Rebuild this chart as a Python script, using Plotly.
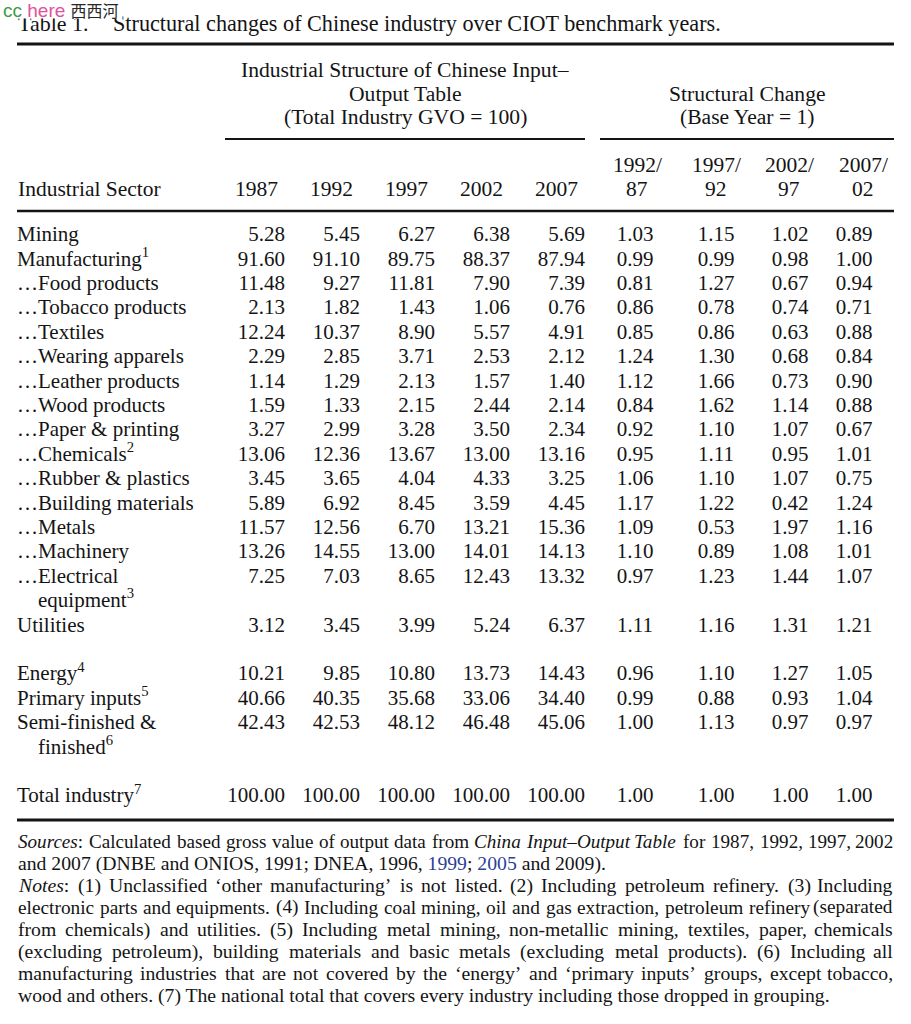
import re
import plotly.graph_objects as go

# ---- table data ---------------------------------------------------------
# "|" marks where a long sector label wraps onto a second line
sectors = [
    "Mining", "Manufacturing<sup>1</sup>", "…Food products", "…Tobacco products",
    "…Textiles", "…Wearing apparels", "…Leather products", "…Wood products",
    "…Paper & printing", "…Chemicals<sup>2</sup>", "…Rubber & plastics",
    "…Building materials", "…Metals", "…Machinery",
    "…Electrical|equipment<sup>3</sup>", "Utilities",
    "Energy<sup>4</sup>", "Primary inputs<sup>5</sup>",
    "Semi-finished &|finished<sup>6</sup>", "Total industry<sup>7</sup>",
]

gvo_1987 = [5.28, 91.60, 11.48, 2.13, 12.24, 2.29, 1.14, 1.59, 3.27, 13.06,
            3.45, 5.89, 11.57, 13.26, 7.25, 3.12, 10.21, 40.66, 42.43, 100.00]
gvo_1992 = [5.45, 91.10, 9.27, 1.82, 10.37, 2.85, 1.29, 1.33, 2.99, 12.36,
            3.65, 6.92, 12.56, 14.55, 7.03, 3.45, 9.85, 40.35, 42.53, 100.00]
gvo_1997 = [6.27, 89.75, 11.81, 1.43, 8.90, 3.71, 2.13, 2.15, 3.28, 13.67,
            4.04, 8.45, 6.70, 13.00, 8.65, 3.99, 10.80, 35.68, 48.12, 100.00]
gvo_2002 = [6.38, 88.37, 7.90, 1.06, 5.57, 2.53, 1.57, 2.44, 3.50, 13.00,
            4.33, 3.59, 13.21, 14.01, 12.43, 5.24, 13.73, 33.06, 46.48, 100.00]
gvo_2007 = [5.69, 87.94, 7.39, 0.76, 4.91, 2.12, 1.40, 2.14, 2.34, 13.16,
            3.25, 4.45, 15.36, 14.13, 13.32, 6.37, 14.43, 34.40, 45.06, 100.00]

chg_1992_87 = [1.03, 0.99, 0.81, 0.86, 0.85, 1.24, 1.12, 0.84, 0.92, 0.95,
               1.06, 1.17, 1.09, 1.10, 0.97, 1.11, 0.96, 0.99, 1.00, 1.00]
chg_1997_92 = [1.15, 0.99, 1.27, 0.78, 0.86, 1.30, 1.66, 1.62, 1.10, 1.11,
               1.10, 1.22, 0.53, 0.89, 1.23, 1.16, 1.10, 0.88, 1.13, 1.00]
chg_2002_97 = [1.02, 0.98, 0.67, 0.74, 0.63, 0.68, 0.73, 1.14, 1.07, 0.95,
               1.07, 0.42, 1.97, 1.08, 1.44, 1.31, 1.27, 0.93, 0.97, 1.00]
chg_2007_02 = [0.89, 1.00, 0.94, 0.71, 0.88, 0.84, 0.90, 0.88, 0.67, 1.01,
               0.75, 1.24, 1.16, 1.01, 1.07, 1.21, 1.05, 1.04, 0.97, 1.00]

year_labels = ["1987", "1992", "1997", "2002", "2007"]
change_labels = [("1992/", "87"), ("1997/", "92"), ("2002/", "97"), ("2007/", "02")]

BLUE = "#2b3f96"
notes = [
    ("<i>Sources</i>: Calculated based gross value of output data from <i>China</i> "
     "<i>Input–Output</i> <i>Table</i> for 1987, 1992, 1997, 2002", True),
    ("and 2007 (DNBE and ONIOS, 1991; DNEA, 1996, "
     f"<span style='color:{BLUE}'>1999</span>; <span style='color:{BLUE}'>2005</span> and 2009).", False),
    ("<i>Notes</i>: (1) Unclassified ‘other manufacturing’ is not listed. (2) Including "
     "petroleum refinery. (3) Including", True),
    ("electronic parts and equipments. (4) Including coal mining, oil and gas extraction, "
     "petroleum refinery (separated", True),
    ("from chemicals) and utilities. (5) Including metal mining, non-metallic mining, "
     "textiles, paper, chemicals", True),
    ("(excluding petroleum), building materials and basic metals (excluding metal "
     "products). (6) Including all", True),
    ("manufacturing industries that are not covered by the ‘energy’ and ‘primary inputs’ "
     "groups, except tobacco,", True),
    ("wood and others. (7) The national total that covers every industry including those "
     "dropped in grouping.", False),
]

# ---- layout constants ---------------------------------------------------
W, H = 911, 1024
SERIF = "Liberation Serif, Times New Roman, serif"
INK = "#141414"
LEFT, RIGHT = 17, 894
ROW0, PITCH = 236, 24.4
group_breaks = [15, 18]          # blank line after Utilities and Semi-finished
gvo_right = [285, 360, 435, 510, 585]
chg_center = [635, 716, 790, 854]
chg_head = [637, 716, 789, 863]

# Times/Liberation Serif advance widths (1/1000 em), used to justify the notes
CW = {}
for chars, w in [(" ,.", 250), ("ijlt:;/", 278), ("frI()-‘’'", 333), ("sJ", 389),
                 ("acez", 444), ("bdghknopquvxy0123456789–", 500), ("FPS", 556),
                 ("=+", 564), ("ELTZ", 611), ("BCR", 667),
                 ("ADGHKNOQUVXYw", 722), ("m&", 778), ("M", 889), ("W", 944)]:
    for c in chars:
        CW[c] = w


def text_width(s, size):
    s = re.sub(r"<[^>]+>", "", s)
    return sum(CW.get(c, 500) for c in s) * size / 1000


# ---- row positions ------------------------------------------------------
row_y, lab_x, lab_y, lab_t = [], [], [], []
line = 0
for i, s in enumerate(sectors):
    parts = s.split("|")
    row_y.append(ROW0 + PITCH * line)
    for k, p in enumerate(parts):
        lab_x.append(LEFT if k == 0 else LEFT + 21)
        lab_y.append(ROW0 + PITCH * (line + k))
        lab_t.append(p)
    line += len(parts)
    if i in group_breaks:
        line += 1

fig = go.Figure()
body_font = dict(family=SERIF, size=21, color=INK)

fig.add_trace(go.Scatter(x=lab_x, y=lab_y, text=lab_t, mode="text",
                         textposition="middle right", textfont=body_font,
                         hoverinfo="skip"))

for xr, vals in zip(gvo_right, [gvo_1987, gvo_1992, gvo_1997, gvo_2002, gvo_2007]):
    fig.add_trace(go.Scatter(x=[xr] * len(vals), y=row_y,
                             text=[f"{v:.2f}" for v in vals], mode="text",
                             textposition="middle left", textfont=body_font,
                             hoverinfo="skip"))

for xc, vals in zip(chg_center, [chg_1992_87, chg_1997_92, chg_2002_97, chg_2007_02]):
    fig.add_trace(go.Scatter(x=[xc] * len(vals), y=row_y,
                             text=[f"{v:.2f}" for v in vals], mode="text",
                             textposition="middle center", textfont=body_font,
                             hoverinfo="skip"))

# ---- rules --------------------------------------------------------------
for x0, x1, y, w in [(LEFT, RIGHT, 44, 3), (225, 585, 139, 2), (600, RIGHT, 139, 2),
                     (LEFT, RIGHT, 211, 2.5), (LEFT, RIGHT, 820, 3)]:
    fig.add_shape(type="line", x0=x0, x1=x1, y0=y, y1=y, xref="x", yref="y",
                  line=dict(color=INK, width=w))

# ---- text: title, headers, notes ---------------------------------------
def note(text, x, y, size=21, anchor="left", **kw):
    fig.add_annotation(x=x, y=y, xref="x", yref="y", text=text, showarrow=False,
                       xanchor=anchor, yanchor="middle", borderpad=0,
                       font=dict(family=SERIF, size=size, color=INK), **kw)

note("Table 1.", LEFT, 23, 22)
note("Structural changes of Chinese industry over CIOT benchmark years.", 112, 23, 22.2)

# watermark: a white patch hides the top of the title, then the tag on it
fig.add_annotation(x=0, y=0, xref="x", yref="y", showarrow=False, text=" ",
                   xanchor="left", yanchor="top", width=121, height=17,
                   bgcolor="white", borderpad=0)
fig.add_annotation(x=2, y=10, xref="x", yref="y", showarrow=False,
                   xanchor="left", yanchor="middle", borderpad=0,
                   text=("<span style='color:#3a9c46'>cc</span> "
                         "<span style='color:#e0529a'>here</span> "
                         "<span style='color:#262626;font-size:16px'>西西河</span>"),
                   font=dict(family="Liberation Sans, Noto Sans CJK SC", size=19))

for txt, y in [("Industrial Structure of Chinese Input–", 70), ("Output Table", 94),
               ("(Total Industry GVO = 100)", 117)]:
    note(txt, 405, y, 21.6, "center")
for txt, y in [("Structural Change", 94), ("(Base Year = 1)", 117)]:
    note(txt, 747, y, 21.6, "center")

note("Industrial Sector", LEFT, 189, 21.5)
for lab, xr in zip(year_labels, gvo_right):
    note(lab, xr - 29, 189, 21.5, "center")
for (top, bot), xc in zip(change_labels, chg_head):
    note(top, xc, 165, 21.5, "center")
    note(bot, xc, 189, 21.5, "center")

NOTE_FS = 19.7
MIN_GAP = 5.5
for k, (txt, justify) in enumerate(notes):
    y = 841 + 22 * k
    if not justify:
        note(txt, LEFT, y, NOTE_FS)
        continue
    words = txt.split(" ")
    n_gaps = len(words) - 1
    natural = sum(text_width(w, NOTE_FS) for w in words)
    # shrink a line a little when its words would not fit with a sane gap
    fs = min(NOTE_FS, NOTE_FS * (RIGHT - LEFT - MIN_GAP * n_gaps) / natural)
    widths = [text_width(w, fs) for w in words]
    gap = (RIGHT - LEFT - sum(widths)) / n_gaps
    x = LEFT
    for j, (w, wd) in enumerate(zip(words, widths)):
        if j == n_gaps:
            note(w, RIGHT, y, fs, "right")
        else:
            note(w, x, y, fs)
        x += wd + gap

fig.update_layout(
    width=W, height=H,
    margin=dict(l=0, r=0, t=0, b=0),
    paper_bgcolor="white", plot_bgcolor="white",
    showlegend=False,
    xaxis=dict(range=[0, W], visible=False, fixedrange=True),
    yaxis=dict(range=[H, 0], visible=False, fixedrange=True),
)

# the page's default body margin would push the table 8px off
fig.write_html("out.html", config={"displayModeBar": False},
               post_script="document.body.style.margin='0';")
